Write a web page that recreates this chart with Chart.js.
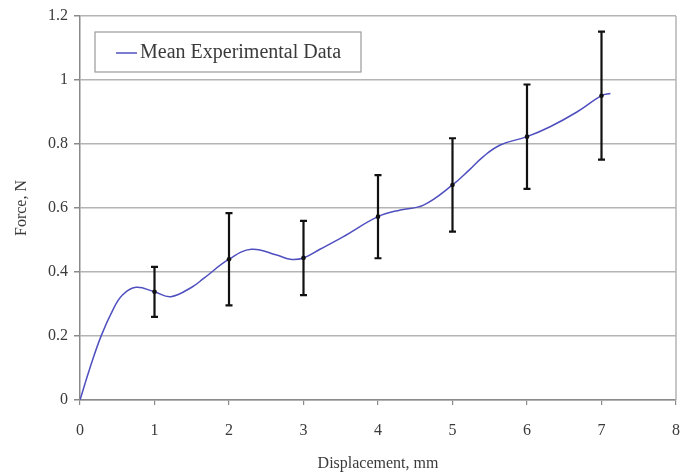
<!DOCTYPE html>
<html>
<head>
<meta charset="utf-8">
<script src="https://cdn.jsdelivr.net/npm/chart.js@4/dist/chart.umd.min.js"></script>
<style>
  html, body { margin: 0; padding: 0; background: #ffffff; }
  #wrap { width: 680px; height: 475px; position: relative; }
</style>
</head>
<body>
<div id="wrap"><canvas id="c" width="680" height="475"></canvas></div>
<script>
// Mean force-displacement curve
const curveX = [0, 0.125, 0.28, 0.44, 0.57, 0.75, 1.0, 1.22, 1.51, 1.66, 2.0, 2.3, 2.64, 2.82, 3.0, 3.22, 3.53, 4.0, 4.3, 4.61, 5.0, 5.23, 5.41, 5.64, 6.0, 6.31, 6.67, 7.0, 7.12];
const curveY = [0, 0.094, 0.198, 0.281, 0.328, 0.352, 0.338, 0.323, 0.354, 0.38, 0.44, 0.471, 0.453, 0.44, 0.444, 0.471, 0.51, 0.573, 0.594, 0.609, 0.672, 0.72, 0.76, 0.797, 0.823, 0.854, 0.90, 0.951, 0.958];

// Sampled displacements with mean force and +/- spread
const sampleX = [1, 2, 3, 4, 5, 6, 7];
const sampleMean = [0.338, 0.44, 0.444, 0.573, 0.672, 0.823, 0.951];
const sampleErr = [0.078, 0.144, 0.116, 0.13, 0.146, 0.163, 0.2];

const xTicks = [0, 1, 2, 3, 4, 5, 6, 7, 8];
const yTicks = [0, 0.2, 0.4, 0.6, 0.8, 1, 1.2];

const FONT = "'Liberation Serif', 'Times New Roman', serif";
const TEXT = '#3a3a3a';
const GRID = '#b4b4b4';
const AXIS = '#8a8a8a';
const CURVE = '#4f4fc0';

const errorBars = {
  id: 'errorBars',
  afterDatasetsDraw(chart) {
    const ctx = chart.ctx;
    const xs = chart.scales.x, ys = chart.scales.y;
    ctx.save();
    ctx.strokeStyle = '#111111';
    ctx.lineWidth = 2.2;
    const cap = 3.5;
    sampleX.forEach((x, i) => {
      const px = xs.getPixelForValue(x);
      const top = ys.getPixelForValue(sampleMean[i] + sampleErr[i]);
      const bot = ys.getPixelForValue(sampleMean[i] - sampleErr[i]);
      ctx.beginPath();
      ctx.moveTo(px, top); ctx.lineTo(px, bot);
      ctx.moveTo(px - cap, top); ctx.lineTo(px + cap, top);
      ctx.moveTo(px - cap, bot); ctx.lineTo(px + cap, bot);
      ctx.stroke();
    });
    ctx.restore();
  }
};

const frameAndLegend = {
  id: 'frameAndLegend',
  beforeDatasetsDraw(chart) {
    const ctx = chart.ctx;
    const a = chart.chartArea;
    ctx.save();
    ctx.strokeStyle = GRID;
    ctx.lineWidth = 1.5;
    ctx.beginPath();
    ctx.moveTo(a.right, a.top); ctx.lineTo(a.right, a.bottom);
    ctx.stroke();
    ctx.restore();
  },
  afterDraw(chart) {
    const ctx = chart.ctx;
    const a = chart.chartArea;
    const bx = a.left + 15, by = a.top + 16, bw = 266, bh = 40;
    ctx.save();
    ctx.fillStyle = '#ffffff';
    ctx.fillRect(bx, by, bw, bh);
    ctx.strokeStyle = '#9a9a9a';
    ctx.lineWidth = 1.2;
    ctx.strokeRect(bx, by, bw, bh);
    const cy = by + bh / 2 + 1;
    ctx.strokeStyle = CURVE;
    ctx.lineWidth = 1.5;
    ctx.beginPath();
    ctx.moveTo(bx + 21, cy); ctx.lineTo(bx + 42, cy);
    ctx.stroke();
    ctx.fillStyle = TEXT;
    ctx.font = '20px ' + FONT;
    ctx.textBaseline = 'middle';
    ctx.textAlign = 'left';
    ctx.fillText(chart.data.datasets[0].label, bx + 45, cy);
    ctx.restore();
  }
};

new Chart(document.getElementById('c'), {
  type: 'scatter',
  data: {
    datasets: [
      {
        label: 'Mean Experimental Data',
        data: curveX.map((x, i) => ({ x, y: curveY[i] })),
        showLine: true,
        borderColor: CURVE,
        borderWidth: 1.5,
        pointRadius: 0,
        tension: 0.4,
        order: 2
      },
      {
        label: 'samples',
        data: sampleX.map((x, i) => ({ x, y: sampleMean[i] })),
        showLine: false,
        pointRadius: 2.3,
        pointBackgroundColor: '#111111',
        pointBorderWidth: 0,
        order: 1
      }
    ]
  },
  options: {
    responsive: false,
    animation: false,
    layout: { padding: { left: 0, right: 4, top: 16, bottom: 0 } },
    plugins: { legend: { display: false }, tooltip: { enabled: false } },
    scales: {
      x: {
        type: 'linear',
        min: 0, max: 8,
        afterBuildTicks(s) { s.ticks = xTicks.map(v => ({ value: v })); },
        afterFit(s) { s.height = 75; s.paddingRight = 0; s.paddingLeft = 0; },
        grid: { drawOnChartArea: false, drawTicks: true, tickLength: 5, color: AXIS, lineWidth: 1.2 },
        border: { color: AXIS, width: 1.5 },
        ticks: { color: TEXT, font: { family: FONT, size: 16 }, padding: 16, maxRotation: 0 },
        title: { display: true, text: 'Displacement, mm', color: TEXT, font: { family: FONT, size: 16 }, padding: { top: 4, bottom: 2 } }
      },
      y: {
        type: 'linear',
        min: 0, max: 1.2,
        afterBuildTicks(s) { s.ticks = yTicks.map(v => ({ value: v })); },
        afterFit(s) { s.width = 80; s.paddingTop = 0; s.paddingBottom = 0; },
        grid: { color: GRID, lineWidth: 1.5, tickLength: 6, tickColor: AXIS },
        border: { color: AXIS, width: 1.5 },
        ticks: { color: TEXT, font: { family: FONT, size: 16 }, padding: 6, callback: v => String(v) },
        title: { display: true, text: 'Force, N', color: TEXT, font: { family: FONT, size: 16 }, padding: { top: 12, bottom: 4 } }
      }
    }
  },
  plugins: [errorBars, frameAndLegend]
});
</script>
</body>
</html>
